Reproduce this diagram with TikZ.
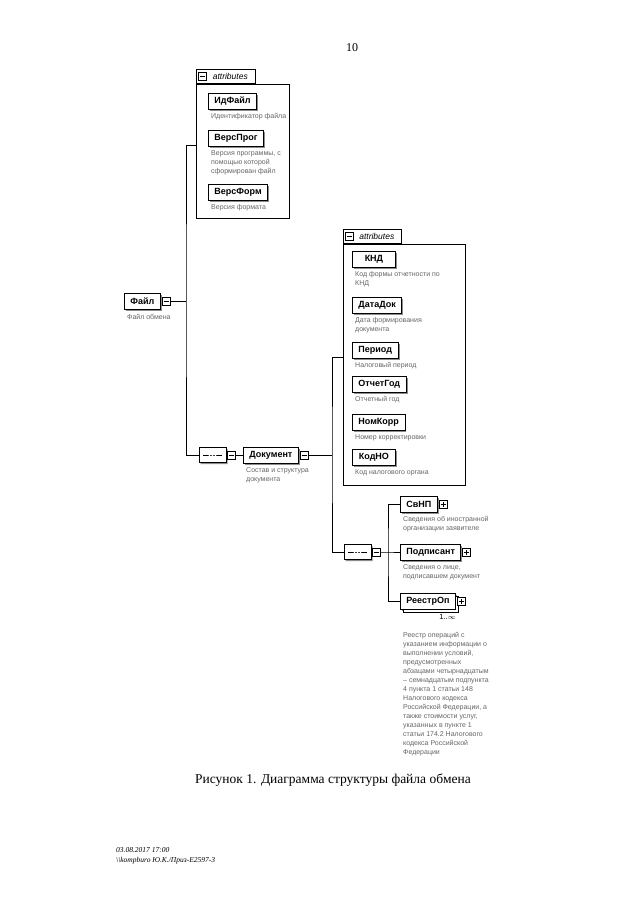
\documentclass[tikz,border=0pt]{standalone}
\usepackage{fontspec}
\setmainfont{Liberation Serif}
\setsansfont{Liberation Sans}
\usetikzlibrary{positioning,shadows,shapes.misc}

\begin{document}
\begin{tikzpicture}[x=1pt, y=-1pt,
    conn/.style={line width=0.9pt},
    elem/.style={draw, line width=0.9pt, fill=white, anchor=west, minimum height=16pt,
      inner xsep=6pt, inner ysep=0pt, font=\sffamily\bfseries\fontsize{9}{10}\selectfont,
      drop shadow={shadow xshift=1.5pt, shadow yshift=-1.5pt, fill=black!45, opacity=1}},
    desc/.style={anchor=north west, xshift=3pt, yshift=-4pt, align=left, inner sep=0pt,
      text=black!60, font=\sffamily\fontsize{7}{9}\selectfont},
    minusbox/.style={draw, line width=0.6pt, fill=white, anchor=west, minimum size=8pt, inner sep=0pt,
      path picture={\draw[line width=0.6pt] ([xshift=1.5pt]path picture bounding box.west)
        -- ([xshift=-1.5pt]path picture bounding box.east);}},
    plusbox/.style={minusbox,
      path picture={\draw[line width=0.6pt] ([xshift=1.5pt]path picture bounding box.west)
        -- ([xshift=-1.5pt]path picture bounding box.east)
        ([yshift=1.5pt]path picture bounding box.south) -- ([yshift=-1.5pt]path picture bounding box.north);}},
    seqbox/.style={chamfered rectangle, chamfered rectangle xsep=4pt, draw, line width=0.9pt, fill=white,
      minimum width=27pt, minimum height=15pt, inner sep=0pt,
      drop shadow={shadow xshift=1.5pt, shadow yshift=-1.5pt, fill=black!45, opacity=1},
      path picture={\draw[line width=0.7pt] ([xshift=4pt]path picture bounding box.west)
        -- ([xshift=-4pt]path picture bounding box.east);
        \foreach \dx in {-3,0,3} \fill ([xshift=\dx pt]path picture bounding box.center) circle (1.2pt);}},
    attrbox/.style={draw, line width=0.6pt, anchor=north west, inner sep=0pt},
    tab/.style={draw, line width=0.6pt, fill=white, anchor=south west, minimum height=14pt, inner xsep=2pt,
      font=\sffamily\itshape\fontsize{8.5}{10}\selectfont}]
  \fill[white] (0,0) rectangle (640,905);
  \useasboundingbox (0,0) rectangle (640,905);

  \node[font=\fontsize{12}{14}\selectfont] (pagenum) at (352,48) {10};

  \node[attrbox, minimum width=93pt, minimum height=134pt] (attr1) at (196,84) {};
  \node[tab, minimum width=59pt] (attr1-tab) at (attr1.north west) {\hspace{9pt}attributes};
  \node[minusbox] (attr1-tog) at ([xshift=2pt]attr1-tab.west) {};
  \coordinate (attr1-in) at (196,145);

  \node[elem, label={[desc]south west:Идентификатор файла}] (idf) at (208,101) {ИдФайл};
  \node[elem, label={[desc]south west:{Версия программы, с\\помощью которой\\сформирован файл}}] (versprog) at (208,138) {ВерсПрог};
  \node[elem, label={[desc]south west:Версия формата}] (versform) at (208,192) {ВерсФорм};

  \node[elem, label={[desc, yshift=-1pt]south west:Файл обмена}] (fajl) at (124,301) {Файл};
  \node[minusbox] (fajl-t) at ([xshift=1pt]fajl.east) {};
  \coordinate (fork1) at (186,301);

  \node[seqbox] (seq1) at (212.5,455) {};
  \node[minusbox] (seq1-t) at ([xshift=0.5pt]seq1.east) {};
  \node[elem, label={[desc]south west:{Состав и структура\\документа}}] (dok) at (243,455) {Документ};
  \node[minusbox] (dok-t) at ([xshift=1pt]dok.east) {};
  \coordinate (fork2) at (332,455);

  \node[attrbox, minimum width=122pt, minimum height=241pt] (attr2) at (343,244) {};
  \node[tab, minimum width=58pt] (attr2-tab) at (attr2.north west) {\hspace{9pt}attributes};
  \node[minusbox] (attr2-tog) at ([xshift=2pt]attr2-tab.west) {};
  \coordinate (attr2-in) at (343,357);

  \node[elem, minimum width=43pt, label={[desc]south west:{Код формы отчетности по\\КНД}}] (knd) at (352,259) {КНД};
  \node[elem, label={[desc]south west:{Дата формирования\\документа}}] (datadok) at (352,305) {ДатаДок};
  \node[elem, label={[desc]south west:Налоговый период}] (period) at (352,350) {Период};
  \node[elem, label={[desc]south west:Отчетный год}] (otchgod) at (352,384) {ОтчетГод};
  \node[elem, label={[desc]south west:Номер корректировки}] (nomkorr) at (352,422) {НомКорр};
  \node[elem, minimum width=43pt, label={[desc]south west:Код налогового органа}] (kodno) at (352,457) {КодНО};

  \node[seqbox] (seq2) at (357.5,552) {};
  \node[minusbox] (seq2-t) at ([xshift=0.5pt]seq2.east) {};
  \coordinate (fork3) at (388,552);

  \node[elem, label={[desc]south west:{Сведения об иностранной\\организации заявителе}}] (svnp) at (400,504) {СвНП};
  \node[plusbox] (svnp-t) at ([xshift=1pt]svnp.east) {};
  \node[elem, label={[desc]south west:{Сведения о лице,\\подписавшем документ}}] (podp) at (400,552) {Подписант};
  \node[plusbox] (podp-t) at ([xshift=1pt]podp.east) {};
  \node[elem, copy shadow={shadow xshift=3pt, shadow yshift=-3pt},
    label={[anchor=north east, inner sep=0pt, yshift=-5pt, font=\sffamily\fontsize{7.5}{9}\selectfont]south east:1..$\infty$},
    label={[desc, yshift=-19pt]south west:{Реестр операций с\\указанием информации о\\выполнении условий,\\предусмотренных\\абзацами четырнадцатым\\– семнадцатым подпункта\\4 пункта 1 статьи 148\\Налогового кодекса\\Российской Федерации, а\\также стоимости услуг,\\указанных в пункте 1\\статьи 174.2 Налогового\\кодекса Российской\\Федерации}}] (reestr) at (400,601) {РеестрОп};
  \node[plusbox] (reestr-t) at ([xshift=1pt]reestr.east) {};

  \draw[conn] (fajl-t.east) -- (fork1);
  \draw[conn] (attr1-in) -| (fork1) |- (seq1.west);
  \draw[conn] (seq1-t.east) -- (dok.west);
  \draw[conn] (dok-t.east) -- (fork2);
  \draw[conn] (attr2-in) -| (fork2) |- (seq2.west);
  \draw[conn] (seq2-t.east) -- (fork3) -- (podp.west);
  \draw[conn] (svnp.west) -| (fork3) |- (reestr.west);

  \node[font=\fontsize{13.5}{16}\selectfont] (caption) at (333,780) {Рисунок 1. Диаграмма структуры файла обмена};
  \node[anchor=north west, align=left, inner sep=0pt, font=\itshape\fontsize{7.5}{10}\selectfont] (stamp) at (116,847)
    {03.08.2017 17:00\\\textbackslash\textbackslash kompburo Ю.К./Приз-E2597-3};
\end{tikzpicture}
\end{document}
